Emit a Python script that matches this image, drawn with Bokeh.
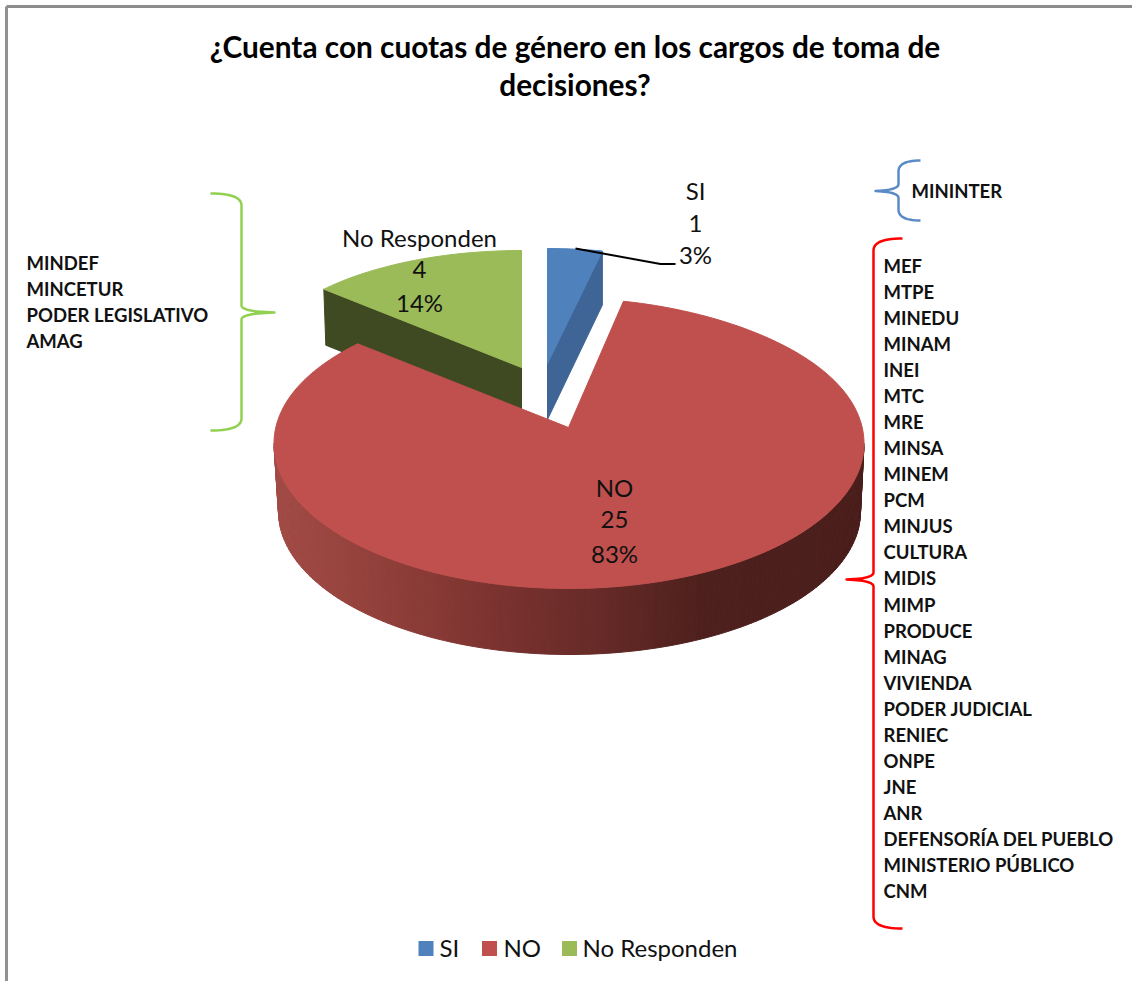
import math
from bokeh.plotting import figure
from bokeh.embed import file_html
from bokeh.resources import INLINE
from bokeh.core.properties import value

categories = ["SI", "NO", "No Responden"]
counts = [1, 25, 4]
percent_labels = ["3%", "83%", "14%"]
colors = ["#4F81BD", "#C0504D", "#9BBB59"]
wall_colors = ["#3F6597", "#9F4A45", "#3F4A23"]
title_lines = ["¿Cuenta con cuotas de género en los cargos de toma de", "decisiones?"]
si_entities = ["MININTER"]
no_entities = ["MEF", "MTPE", "MINEDU", "MINAM", "INEI", "MTC", "MRE", "MINSA", "MINEM", "PCM",
               "MINJUS", "CULTURA", "MIDIS", "MIMP", "PRODUCE", "MINAG", "VIVIENDA",
               "PODER JUDICIAL", "RENIEC", "ONPE", "JNE", "ANR", "DEFENSORÍA DEL PUEBLO",
               "MINISTERIO PÚBLICO", "CNM"]
nr_entities = ["MINDEF", "MINCETUR", "PODER LEGISLATIVO", "AMAG"]

FONT = value("Lato")
total = sum(counts)
sweeps = [c / total * 360 for c in counts]
start_si = 0.0
start_no = start_si + sweeps[0]
start_nr = start_no + sweeps[1]

p = figure(width=1132, height=981, x_range=(0, 1132), y_range=(981, 0),
           x_axis_type=None, y_axis_type=None, toolbar_location=None,
           output_backend="svg", min_border=0, outline_line_color=None)
p.grid.visible = False


def rim(deg, cx, cy, rx, ry, k=0.12, j=0.125):
    t = math.radians(deg)
    s, c = math.sin(t), math.cos(t)
    far = max(c, 0)
    return cx + rx * s * (1 - k * far ** 3), cy - ry * c * (1 + j * far * (1 - far))


def arc(a, b, cx, cy, rx, ry, n=90, k=0.12, j=0.125):
    pts = [rim(a + (b - a) * i / n, cx, cy, rx, ry, k, j) for i in range(n + 1)]
    return [q[0] for q in pts], [q[1] for q in pts]


# frame
p.line([6, 6], [6, 981], line_color="#929292", line_width=3)
p.line([6, 1132], [6, 6], line_color="#8C8C8C", line_width=3)

# SI slice
ax, ay, a_rx, a_ry, depth = 547, 363, 264, 115, 56
x1, y1 = arc(start_si, start_si + sweeps[0], ax, ay, a_rx, a_ry, 12, 0, 0)
p.patch([ax, x1[-1], x1[-1], ax], [ay, y1[-1], y1[-1] + depth - 2, ay + depth], fill_color=wall_colors[0], line_color=wall_colors[0])
p.patch([ax] + x1, [ay] + y1, fill_color=colors[0], line_color=colors[0])

# No Responden slice
ax, ay, a_rx, a_ry, depth = 521, 367, 266, 117, 56
x1, y1 = arc(start_nr, 360, ax, ay, a_rx, a_ry, 40, 0, 0)
p.patch([ax, x1[0], x1[0] + 2, ax], [ay, y1[0], y1[0] + depth, ay + depth], fill_color=wall_colors[2], line_color=wall_colors[2])
p.patch([ax] + x1, [ay] + y1, fill_color=colors[2], line_color=colors[2])

# NO slice: side with a shaded left-to-right strip sequence, then the top face
cx, cy, rx, ry = 568.5, 443, 295, 145
bx, by, brx, bry = 569, 511, 291, 143
stops = [(274, (0xA2, 0x4B, 0x46)), (400, (0x8E, 0x3D, 0x38)), (500, (0x7A, 0x32, 0x2F)),
         (600, (0x66, 0x2A, 0x27)), (700, (0x4E, 0x20, 0x1D)), (864, (0x4A, 0x1E, 0x1B))]


def shade(x):
    for (x0, c0), (x2, c2) in zip(stops, stops[1:]):
        if x <= x2:
            f = max((x - x0) / (x2 - x0), 0)
            return "#%02X%02X%02X" % tuple(round(u + (v - u) * f) for u, v in zip(c0, c2))
    return "#%02X%02X%02X" % stops[-1][1]


n_strips = 140
for i in range(n_strips):
    a = 270 - 180 * i / n_strips
    b = 270 - 180 * (i + 1) / n_strips
    xa, ya = rim(a, cx, cy, rx, ry)
    xb, yb = rim(b, cx, cy, rx, ry)
    xc, yc = rim(b, bx, by, brx, bry)
    xd, yd = rim(a, bx, by, brx, bry)
    col = shade((xa + xb) / 2)
    p.patch([xa, xb, xc, xd], [ya, yb, yc, yd], fill_color=col, line_color=col, line_width=1)

apex_x, apex_y = 568, 427
x1, y1 = arc(start_no, start_no + sweeps[1], cx, cy, rx, ry, 300)
p.patch([apex_x] + x1, [apex_y] + y1, fill_color=colors[1], line_color=colors[1])

# leader line of the SI label
p.line([575, 660, 675], [248, 263.5, 263.5], line_color="black", line_width=2)


def texts(xs, ys, labels, size, align="center", style="normal", color="#111111"):
    p.text(xs, ys, text=labels, text_font=FONT, text_font_size=f"{size}px",
           text_align=align, text_baseline="middle", text_font_style=style, text_color=color)


# title
texts([574.5, 574.5], [46, 84], title_lines, 29.8, style="bold", color="#000000")

# data labels
label_x = [695, 614, 419]
label_y = [(190, 223, 254), (487, 519, 553), (237, 269, 302)]
for name, n, pct, lx, ly in zip(categories, counts, percent_labels, label_x, label_y):
    texts([lx] * 3, list(ly), [name, str(n), pct], 24.0)

# entity lists
texts([911], [190], si_entities, 18.5, "left", "bold")
texts([883] * len(no_entities), [265 + 26.08 * i for i in range(len(no_entities))], no_entities, 18.5, "left", "bold")
texts([26] * len(nr_entities), [262 + 26 * i for i in range(len(nr_entities))], nr_entities, 18.5, "left", "bold")


def brace(spine, end, top, bottom, tip_x, tip_y, color, width=2.5):
    d = end - spine
    r = min(abs(d) * 0.5, 12)
    xs, ys = [], []

    def q(p0, p1, p2, n=14):
        for i in range(n + 1):
            t = i / n
            xs.append((1 - t) ** 2 * p0[0] + 2 * t * (1 - t) * p1[0] + t ** 2 * p2[0])
            ys.append((1 - t) ** 2 * p0[1] + 2 * t * (1 - t) * p1[1] + t ** 2 * p2[1])

    q((end, top), (spine, top), (spine, top + r))
    q((spine, tip_y - 7), (spine, tip_y - 1), (tip_x, tip_y))
    q((tip_x, tip_y), (spine, tip_y + 1), (spine, tip_y + 7))
    q((spine, bottom - r), (spine, bottom), (end, bottom))
    p.line(xs, ys, line_color=color, line_width=width, line_join="round")


brace(898, 920, 160, 220, 875, 190.5, "#5B8BC6")
brace(873, 902, 238, 928, 846, 579, "#FF0000")
brace(241, 210, 193, 430, 274, 312, "#92D050")

# legend
leg_sq = [425.5, 489, 569]
leg_tx = [439, 503, 582]
p.rect(leg_sq, [948] * 3, width=15, height=15, fill_color=colors, line_color=None)
texts(leg_tx, [947] * 3, categories, 24.0, "left")

open("out.html", "w").write(file_html(p, INLINE))
